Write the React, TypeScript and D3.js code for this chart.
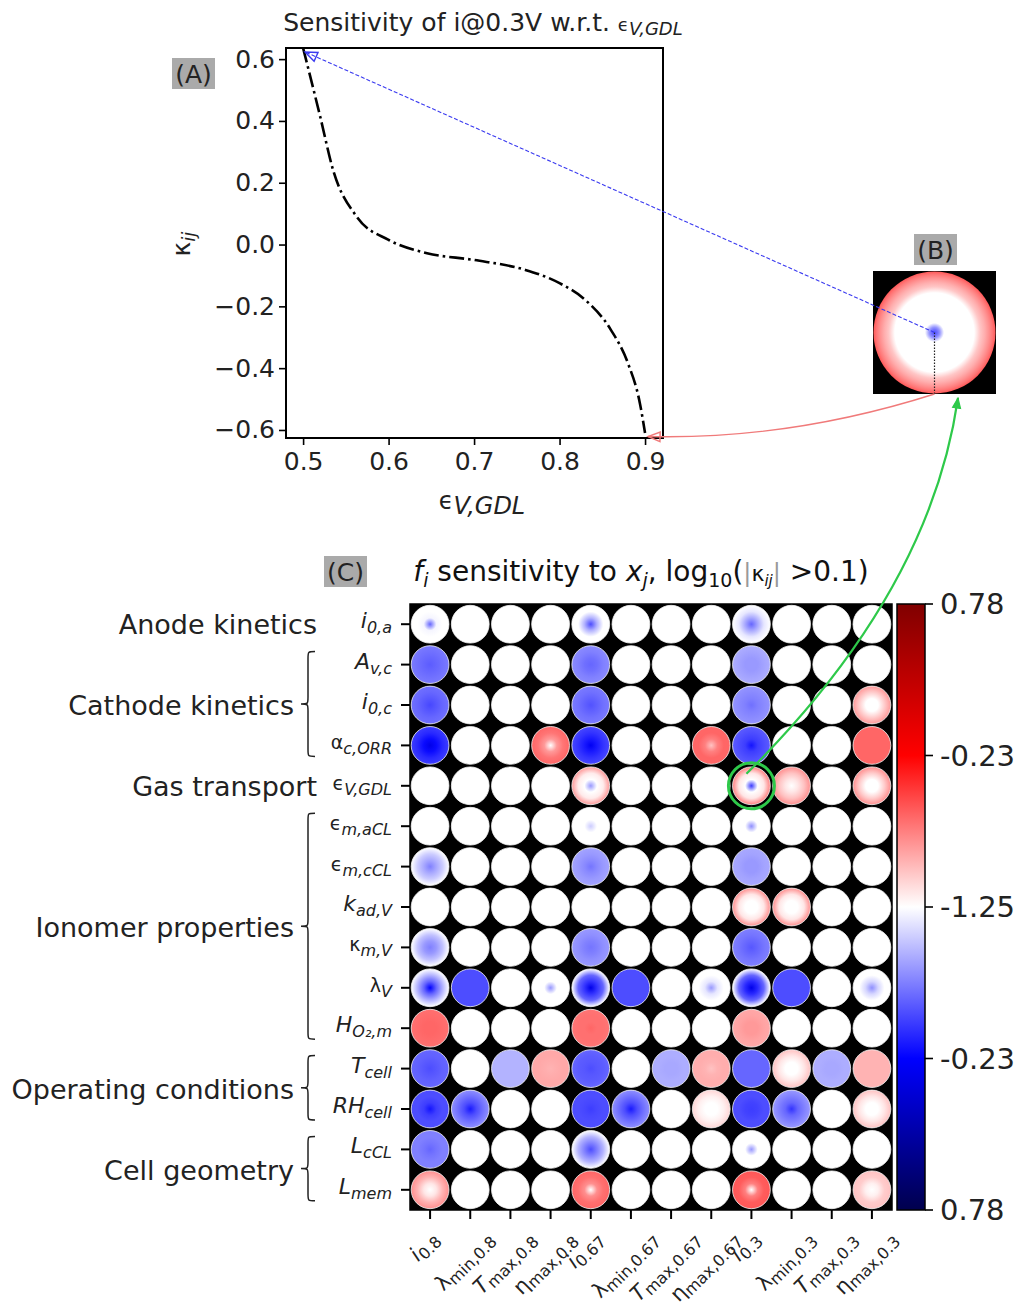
import * as d3 from "d3";
import React, { useRef, useEffect } from "react";

// panel A curve: kappa_ij of i@0.3V vs eps_V,GDL
const curveX = [0.5, 0.52, 0.535, 0.5625, 0.6, 0.645, 0.7, 0.76, 0.8, 0.83, 0.86, 0.88, 0.894, 0.9];
const curveK = [0.636, 0.414, 0.242, 0.091, 0.015, -0.028, -0.05, -0.082, -0.125, -0.179, -0.276, -0.384, -0.514, -0.61];

const xTicksA = [0.5, 0.6, 0.7, 0.8, 0.9];
const yTicksA = [-0.6, -0.4, -0.2, 0.0, 0.2, 0.4, 0.6];

// panel C rows (parameters) and columns (outputs)
const rowMain = ["i", "A", "i", "α", "ϵ", "ϵ", "ϵ", "k", "κ", "λ", "H", "T", "RH", "L", "L"];
const rowSub = ["0,a", "v,c", "0,c", "c,ORR", "V,GDL", "m,aCL", "m,cCL", "ad,V", "m,V", "V", "O₂,m", "cell", "cell", "cCL", "mem"];
const colMain = ["i", "λ", "T", "η", "i", "λ", "T", "η", "i", "λ", "T", "η"];
const colSub = ["0.8", "min,0.8", "max,0.8", "max,0.8", "0.67", "min,0.67", "max,0.67", "max,0.67", "0.3", "min,0.3", "max,0.3", "max,0.3"];

const groupNames = ["Anode kinetics", "Cathode kinetics", "Gas transport", "Ionomer properties", "Operating conditions", "Cell geometry"];
const groupFrom = [0, 1, 4, 5, 11, 13];
const groupTo = [0, 3, 4, 10, 12, 14];

// non-white cells: [row, col, centre, r=1/3, r=2/3, edge]  (signed: <0 blue, >0 red)
const cells: number[][] = [
  [0, 0, -0.3, -0.02, 0, 0],
  [0, 4, -0.35, -0.15, 0, 0],
  [0, 8, -0.3, -0.17, -0.05, 0],
  [1, 0, -0.32, -0.3, -0.28, -0.26],
  [1, 4, -0.3, -0.28, -0.25, -0.23],
  [1, 8, -0.2, -0.2, -0.18, -0.16],
  [2, 0, -0.36, -0.33, -0.3, -0.28],
  [2, 4, -0.34, -0.31, -0.28, -0.26],
  [2, 8, -0.28, -0.25, -0.23, -0.21],
  [2, 11, 0, 0, 0.1, 0.2],
  [3, 0, -0.56, -0.48, -0.42, -0.38],
  [3, 3, 0, 0.2, 0.27, 0.3],
  [3, 4, -0.53, -0.45, -0.4, -0.36],
  [3, 7, 0.12, 0.25, 0.3, 0.3],
  [3, 8, -0.46, -0.38, -0.35, -0.32],
  [3, 11, 0.3, 0.3, 0.3, 0.3],
  [4, 4, -0.2, 0, 0.04, 0.2],
  [4, 8, -0.38, 0, 0.05, 0.25],
  [4, 9, 0, 0.05, 0.12, 0.22],
  [4, 11, 0, 0, 0.1, 0.22],
  [5, 4, -0.1, 0, 0, 0],
  [5, 8, -0.22, 0, 0, 0],
  [6, 0, -0.25, -0.17, -0.1, 0],
  [6, 4, -0.27, -0.23, -0.2, -0.18],
  [6, 8, -0.2, -0.2, -0.18, -0.17],
  [7, 8, 0, 0, 0.05, 0.22],
  [7, 9, 0, 0, 0.05, 0.22],
  [8, 0, -0.25, -0.2, -0.12, 0],
  [8, 4, -0.27, -0.25, -0.22, -0.2],
  [8, 8, -0.33, -0.3, -0.27, -0.25],
  [9, 0, -0.5, -0.3, -0.15, 0],
  [9, 1, -0.35, -0.35, -0.35, -0.35],
  [9, 3, -0.2, 0, 0, 0],
  [9, 4, -0.56, -0.4, -0.3, 0],
  [9, 5, -0.35, -0.35, -0.35, -0.35],
  [9, 7, -0.2, -0.05, 0, 0],
  [9, 8, -0.56, -0.42, -0.3, 0],
  [9, 9, -0.35, -0.35, -0.35, -0.35],
  [9, 11, -0.22, -0.08, 0, 0],
  [10, 0, 0.3, 0.3, 0.29, 0.28],
  [10, 4, 0.3, 0.28, 0.28, 0.27],
  [10, 8, 0.2, 0.2, 0.18, 0.17],
  [11, 0, -0.35, -0.33, -0.31, -0.3],
  [11, 2, -0.15, -0.15, -0.15, -0.15],
  [11, 3, 0.15, 0.16, 0.17, 0.17],
  [11, 4, -0.35, -0.33, -0.32, -0.3],
  [11, 6, -0.17, -0.17, -0.16, -0.16],
  [11, 7, 0.12, 0.15, 0.16, 0.16],
  [11, 8, -0.3, -0.3, -0.3, -0.3],
  [11, 9, 0, 0, 0.05, 0.12],
  [11, 10, -0.17, -0.17, -0.16, -0.16],
  [11, 11, 0.15, 0.15, 0.15, 0.15],
  [12, 0, -0.46, -0.38, -0.35, -0.35],
  [12, 1, -0.45, -0.35, -0.28, -0.22],
  [12, 4, -0.38, -0.36, -0.35, -0.35],
  [12, 5, -0.45, -0.35, -0.28, -0.22],
  [12, 7, 0, 0, 0.03, 0.08],
  [12, 8, -0.38, -0.37, -0.35, -0.35],
  [12, 9, -0.4, -0.3, -0.25, -0.2],
  [12, 11, 0, 0, 0.05, 0.12],
  [13, 0, -0.3, -0.27, -0.25, -0.25],
  [13, 4, -0.35, -0.25, -0.15, 0],
  [13, 8, -0.2, 0, 0, 0],
  [14, 0, 0, 0.05, 0.15, 0.22],
  [14, 4, 0, 0.22, 0.28, 0.3],
  [14, 8, 0, 0.25, 0.32, 0.33],
  [14, 11, 0, 0.03, 0.1, 0.12],
];

const cbarTickPos = [1, 0.5, 0, -0.5, -1];
const cbarTickLabels = ["0.78", "-0.23", "-1.25", "-0.23", "0.78"];

const FONT = "DejaVu Sans, sans-serif";

function App() {
  const ref = useRef<SVGSVGElement>(null);

  useEffect(() => {
    const svg = d3.select(ref.current);
    svg.selectAll("*").remove();
    draw(svg);
  }, []);

  const draw = (svg: any) => {
    const seismic = d3
      .scaleLinear<string>()
      .domain([-1, -0.5, 0, 0.5, 1])
      .range(["#00004d", "#0000ff", "#ffffff", "#ff0000", "#800000"])
      .clamp(true);
    const defs = svg.append("defs");

    // ---------- panel A ----------
    const x = d3.scaleLinear().domain([0.48, 0.921]).range([286, 663]);
    const y = d3.scaleLinear().domain([-0.626, 0.636]).range([438, 48]);
    const gA = svg.append("g");

    const title = gA.append("text").attr("x", 483).attr("y", 31).attr("text-anchor", "middle")
      .attr("font-family", FONT).attr("font-size", 25).attr("fill", "#222");
    title.append("tspan").text("Sensitivity of i@0.3V w.r.t. ");
    title.append("tspan").text("ϵ").attr("font-size", 18);
    title.append("tspan").text("V,GDL").attr("font-size", 18).attr("font-style", "italic").attr("dy", 4);

    gA.append("g").attr("transform", "translate(0,438)")
      .call(d3.axisBottom(x).tickValues(xTicksA).tickFormat(d3.format(".1f")).tickSize(7).tickPadding(7))
      .call((g: any) => g.select(".domain").remove())
      .call((g: any) => g.selectAll("line").attr("stroke-width", 1.6))
      .call((g: any) => g.selectAll("text").attr("font-family", FONT).attr("font-size", 25).attr("fill", "#222"));
    gA.append("g").attr("transform", "translate(286,0)")
      .call(d3.axisLeft(y).tickValues(yTicksA).tickFormat(d3.format(".1f")).tickSize(7).tickPadding(4))
      .call((g: any) => g.select(".domain").remove())
      .call((g: any) => g.selectAll("line").attr("stroke-width", 1.6))
      .call((g: any) => g.selectAll("text").attr("font-family", FONT).attr("font-size", 25).attr("fill", "#222"));

    gA.append("rect").attr("x", 286).attr("y", 48).attr("width", 377).attr("height", 390)
      .attr("fill", "none").attr("stroke", "black").attr("stroke-width", 2);

    const line = d3.line<number>().x((d, i) => x(curveX[i])).y((d) => y(d)).curve(d3.curveMonotoneX);
    gA.append("path").attr("d", line(curveK)).attr("fill", "none").attr("stroke", "black")
      .attr("stroke-width", 2.6).attr("stroke-dasharray", "15,4,2.6,4");

    const xl = gA.append("text").attr("x", 482).attr("y", 509).attr("text-anchor", "middle")
      .attr("font-family", FONT).attr("font-size", 24).attr("fill", "#222");
    xl.append("tspan").text("ϵ");
    xl.append("tspan").text("V,GDL").attr("font-style", "italic").attr("dy", 5);

    const yl = gA.append("text").attr("transform", "translate(190,244) rotate(-90)").attr("text-anchor", "middle")
      .attr("font-family", FONT).attr("font-size", 25).attr("fill", "#222");
    yl.append("tspan").text("κ");
    yl.append("tspan").text("ij").attr("font-style", "italic").attr("font-size", 18).attr("dy", 5);

    const panelLabel = (lx: number, ly: number, txt: string) => {
      svg.append("rect").attr("x", lx).attr("y", ly).attr("width", 43).attr("height", 31).attr("fill", "#aaaaaa");
      svg.append("text").attr("x", lx + 21.5).attr("y", ly + 25).attr("text-anchor", "middle")
        .attr("font-family", FONT).attr("font-size", 25).attr("fill", "#222").text(txt);
    };
    panelLabel(172, 58, "(A)");
    panelLabel(914, 234, "(B)");
    panelLabel(324, 556, "(C)");

    // ---------- panel B: radial view of the curve ----------
    const kColor = (k: number) => {
      const a = Math.abs(k);
      if (a < 0.1) return "#ffffff";
      const t = Math.max(0, Math.min(1, (Math.log10(a) + 1.25) / 2.03));
      return seismic(-Math.sign(k) * t * 0.65);
    };
    const bGrad = defs.append("radialGradient").attr("id", "gradB").attr("cx", "50%").attr("cy", "50%").attr("r", "50%");
    curveX.forEach((cx, i) => {
      bGrad.append("stop").attr("offset", (cx - 0.5) / 0.4).attr("stop-color", kColor(curveK[i]));
    });
    svg.append("rect").attr("x", 873).attr("y", 271).attr("width", 123).attr("height", 123).attr("fill", "black");
    svg.append("circle").attr("cx", 934.5).attr("cy", 332.5).attr("r", 61).attr("fill", "url(#gradB)");
    svg.append("line").attr("x1", 934.5).attr("y1", 332.5).attr("x2", 934.5).attr("y2", 394)
      .attr("stroke", "#222").attr("stroke-width", 1.2).attr("stroke-dasharray", "1.5,1.5");

    // ---------- panel C: sensitivity grid ----------
    const gx = d3.scaleBand<number>().domain(d3.range(colMain.length)).range([410, 892]);
    const gy = d3.scaleBand<number>().domain(d3.range(rowMain.length)).range([604, 1210]);
    const cxOf = (c: number) => gx(c)! + gx.bandwidth() / 2;
    const cyOf = (r: number) => gy(r)! + gy.bandwidth() / 2;
    const rad = gx.bandwidth() / 2 - 1.2;

    const ct = svg.append("text").attr("x", 641).attr("y", 581).attr("text-anchor", "middle")
      .attr("font-family", FONT).attr("font-size", 28).attr("fill", "#111");
    ct.append("tspan").text("f").attr("font-style", "italic");
    ct.append("tspan").text("i").attr("font-style", "italic").attr("font-size", 19).attr("dy", 6);
    ct.append("tspan").text(" sensitivity to ").attr("dy", -6);
    ct.append("tspan").text("x").attr("font-style", "italic");
    ct.append("tspan").text("j").attr("font-style", "italic").attr("font-size", 19).attr("dy", 6);
    ct.append("tspan").text(", log").attr("dy", -6);
    ct.append("tspan").text("10").attr("font-size", 19).attr("dy", 6);
    ct.append("tspan").text("(").attr("dy", -6);
    ct.append("tspan").text("|").attr("fill", "#999").attr("font-size", 24);
    ct.append("tspan").text("κ").attr("font-size", 22);
    ct.append("tspan").text("ij").attr("font-style", "italic").attr("font-size", 15).attr("dy", 5);
    ct.append("tspan").text("|").attr("fill", "#999").attr("font-size", 24).attr("dy", -5);
    ct.append("tspan").text(" >0.1)");

    const gC = svg.append("g");
    gC.append("rect").attr("x", 410).attr("y", 604).attr("width", 482).attr("height", 606)
      .attr("fill", "black").attr("stroke", "black").attr("stroke-width", 1.5);

    const cellMap = new Map<string, number[]>();
    cells.forEach((c) => cellMap.set(c[0] + "_" + c[1], c.slice(2)));
    cellMap.forEach((vals, key) => {
      const g = defs.append("radialGradient").attr("id", "cg" + key).attr("cx", "50%").attr("cy", "50%").attr("r", "50%");
      vals.forEach((v, i) => g.append("stop").attr("offset", i / (vals.length - 1)).attr("stop-color", seismic(v)));
    });
    d3.range(rowMain.length).forEach((r) => {
      d3.range(colMain.length).forEach((c) => {
        const key = r + "_" + c;
        gC.append("circle").attr("cx", cxOf(c)).attr("cy", cyOf(r)).attr("r", rad)
          .attr("fill", cellMap.has(key) ? `url(#cg${key})` : "white")
          .attr("stroke", "#f4f4f4").attr("stroke-width", 0.8);
      });
    });

    // row ticks + labels
    rowMain.forEach((m, r) => {
      gC.append("line").attr("x1", 401).attr("x2", 410).attr("y1", cyOf(r)).attr("y2", cyOf(r))
        .attr("stroke", "black").attr("stroke-width", 2);
      const t = gC.append("text").attr("x", 392).attr("y", cyOf(r) + 4).attr("text-anchor", "end")
        .attr("font-family", FONT).attr("font-size", 22).attr("fill", "#222");
      const latin = /[A-Za-z]/.test(m);
      t.append("tspan").text(m).attr("font-style", latin ? "italic" : "normal").attr("font-size", latin ? 22 : 19);
      t.append("tspan").text(rowSub[r]).attr("font-style", "italic").attr("font-size", 16).attr("dy", 5);
    });

    // column ticks + rotated labels
    colMain.forEach((m, c) => {
      gC.append("line").attr("x1", cxOf(c)).attr("x2", cxOf(c)).attr("y1", 1210).attr("y2", 1219)
        .attr("stroke", "black").attr("stroke-width", 2);
      const t = gC.append("text").attr("text-anchor", "end").attr("font-family", FONT).attr("font-size", 21).attr("fill", "#222");
      t.append("tspan").text(m).attr("font-style", /[A-Za-z]/.test(m) ? "italic" : "normal");
      t.append("tspan").text(colSub[c]).attr("font-size", 16).attr("dy", 4);
      const L = (t.node() as SVGTextElement).getComputedTextLength();
      const px = cxOf(c) + L / (2 * Math.SQRT2) - 1;
      t.attr("transform", `translate(${px},${1240}) rotate(-45)`);
    });

    // group labels + braces
    const brace = (bx: number, y0: number, y1: number, w: number) => {
      const ym = (y0 + y1) / 2;
      const xm = bx + w / 2;
      const q = 7;
      return `M${bx + w},${y0} C${xm},${y0} ${xm},${y0} ${xm},${y0 + q} L${xm},${ym - q} C${xm},${ym} ${xm},${ym} ${bx},${ym}` +
        ` C${xm},${ym} ${xm},${ym} ${xm},${ym + q} L${xm},${y1 - q} C${xm},${y1} ${xm},${y1} ${bx + w},${y1}`;
    };
    groupNames.forEach((name, i) => {
      const y0 = cyOf(groupFrom[i]);
      const y1 = cyOf(groupTo[i]);
      const hasBrace = groupTo[i] > groupFrom[i];
      if (hasBrace) {
        gC.append("path").attr("d", brace(301, y0 - 13, y1 + 11, 14)).attr("fill", "none")
          .attr("stroke", "#222").attr("stroke-width", 1.5);
      }
      gC.append("text").attr("x", hasBrace ? 294 : 317).attr("y", (y0 + y1) / 2 + 10).attr("text-anchor", "end")
        .attr("font-family", FONT).attr("font-size", 27).attr("fill", "#222").text(name);
    });

    // colorbar
    const cg = defs.append("linearGradient").attr("id", "cbar").attr("x1", 0).attr("y1", 0).attr("x2", 0).attr("y2", 1);
    d3.range(0, 1.0001, 0.05).forEach((t) => cg.append("stop").attr("offset", t).attr("stop-color", seismic(1 - 2 * t)));
    const cy = d3.scaleLinear().domain([1, -1]).range([604, 1210]);
    svg.append("rect").attr("x", 897).attr("y", 604).attr("width", 28).attr("height", 606)
      .attr("fill", "url(#cbar)").attr("stroke", "black").attr("stroke-width", 1.5);
    cbarTickPos.forEach((p, i) => {
      svg.append("line").attr("x1", 925).attr("x2", 933).attr("y1", cy(p)).attr("y2", cy(p))
        .attr("stroke", "black").attr("stroke-width", 1.6);
      svg.append("text").attr("x", 940).attr("y", cy(p) + 10).attr("font-family", FONT).attr("font-size", 29)
        .attr("fill", "#222").text(cbarTickLabels[i]);
    });

    // ---------- connectors ----------
    const mk = (id: string, color: string, filled: boolean) => {
      defs.append("marker").attr("id", id).attr("viewBox", "0 0 12 10").attr("refX", 11).attr("refY", 5)
        .attr("markerWidth", filled ? 12 : 18).attr("markerHeight", filled ? 12 : 12).attr("markerUnits", "userSpaceOnUse")
        .attr("orient", "auto")
        .append("path").attr("d", "M1,1 L11,5 L1,9 Z").attr("fill", filled ? color : "white")
        .attr("fill-opacity", filled ? 1 : 0).attr("stroke", color).attr("stroke-width", 1.2);
    };
    mk("arrBlue", "#3a3af0", false);
    mk("arrRed", "#f07a7a", false);
    mk("arrGreen", "#2ec94a", true);

    svg.append("line").attr("x1", 934.5).attr("y1", 332.5).attr("x2", x(0.5) + 2).attr("y2", y(0.62) - 1)
      .attr("stroke", "#3a3af0").attr("stroke-width", 1.1).attr("stroke-dasharray", "4,2")
      .attr("marker-end", "url(#arrBlue)");
    svg.append("path").attr("d", `M934.5,394 Q790,440 ${x(0.9) + 3},${y(-0.618) + 1}`)
      .attr("fill", "none").attr("stroke", "#f07a7a").attr("stroke-width", 1.4).attr("marker-end", "url(#arrRed)");

    svg.append("circle").attr("cx", cxOf(8)).attr("cy", cyOf(4)).attr("r", 23)
      .attr("fill", "none").attr("stroke", "#2ec94a").attr("stroke-width", 3);
    svg.append("path").attr("d", `M${cxOf(8) - 5},${cyOf(4) - 12} Q930,592 958,398`)
      .attr("fill", "none").attr("stroke", "#2ec94a").attr("stroke-width", 2.2).attr("marker-end", "url(#arrGreen)");
  };

  return (
    <div className="Chart">
      <svg ref={ref} width={1022} height={1302} style={{ position: "absolute", left: 0, top: 0, background: "white" }}></svg>
    </div>
  );
}

export default App;
